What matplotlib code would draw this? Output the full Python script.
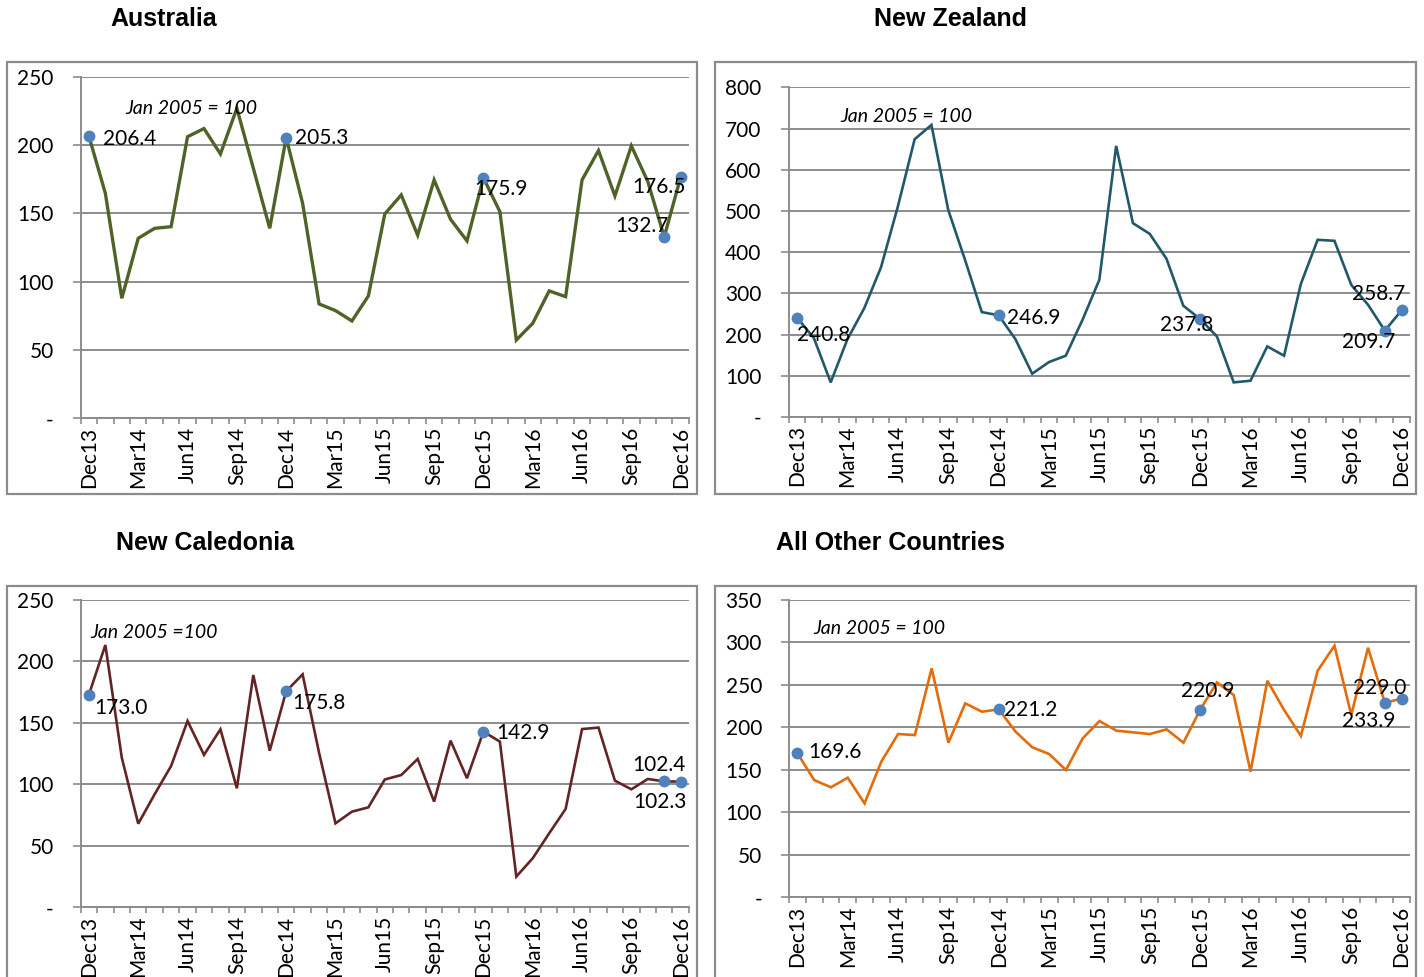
import matplotlib
matplotlib.use("Agg")
import matplotlib.pyplot as plt
from matplotlib.patches import Rectangle
import numpy as np

months = ["Dec13", "Jan14", "Feb14", "Mar14", "Apr14", "May14", "Jun14", "Jul14",
          "Aug14", "Sep14", "Oct14", "Nov14", "Dec14", "Jan15", "Feb15", "Mar15",
          "Apr15", "May15", "Jun15", "Jul15", "Aug15", "Sep15", "Oct15", "Nov15",
          "Dec15", "Jan16", "Feb16", "Mar16", "Apr16", "May16", "Jun16", "Jul16",
          "Aug16", "Sep16", "Oct16", "Nov16", "Dec16"]

australia = [206.4, 164.6, 87.8, 131.7, 139.0, 140.2, 206.0, 212.0, 193.4, 226.8,
             183.0, 139.0, 205.3, 157.3, 83.7, 78.8, 71.2, 89.5, 149.5, 163.4,
             134.0, 174.4, 145.6, 129.8, 175.9, 151.2, 57.3, 69.5, 93.2, 89.0,
             174.4, 195.9, 162.7, 199.3, 173.2, 132.7, 176.5]

new_zealand = [240.8, 191.5, 84.0, 189.0, 264.0, 363.6, 510.7, 674.0, 708.7, 502.6,
               381.4, 254.5, 246.9, 189.0, 105.0, 133.3, 148.7, 236.0, 333.0, 657.8,
               470.3, 444.4, 383.8, 270.0, 237.8, 195.6, 84.0, 88.0, 171.3, 148.7,
               323.0, 430.0, 427.5, 320.8, 272.3, 209.7, 258.7]

new_caledonia = [173.0, 213.4, 121.7, 68.0, 92.0, 115.0, 151.6, 124.0, 144.8, 96.8,
                 189.0, 127.4, 175.8, 189.5, 125.8, 68.3, 77.8, 81.3, 104.0, 107.6,
                 120.7, 86.0, 135.6, 105.0, 142.9, 134.8, 25.0, 39.9, 60.2, 80.0,
                 145.0, 146.2, 103.0, 96.0, 104.4, 102.4, 102.3]

other_countries = [169.6, 138.0, 129.5, 140.8, 110.6, 159.7, 192.2, 191.0, 269.5, 182.0,
                   228.3, 218.5, 221.2, 195.0, 176.5, 168.7, 149.9, 187.1, 207.5, 196.2,
                   194.2, 192.2, 197.7, 182.0, 220.9, 253.0, 238.0, 147.9, 255.0, 220.5,
                   190.0, 266.8, 296.2, 214.6, 293.8, 229.0, 233.9]

titles = ["Australia", "New Zealand", "New Caledonia", "All Other Countries"]
notes = ["Jan 2005 = 100", "Jan 2005 = 100", "Jan 2005 =100", "Jan 2005 = 100"]
labelled_idx = [0, 12, 24, 35, 36]

W, H = 1424, 977
fig = plt.figure(figsize=(W / 100, H / 100), dpi=100)

GRID = "#8c8c8c"
FRAME = "#8c8c8c"
MARK = "#4F81BD"
TICKFONT = "Lato"
FS = 15


def px2fig(x, y):
    return x / W, 1 - y / H


def add_frame(l, t, r, b):
    fig.add_artist(Rectangle((l / W, 1 - b / H), (r - l) / W, (b - t) / H,
                             transform=fig.transFigure, fill=False, ec=FRAME, lw=1.6))


def make_axes(l, t, r, b, data, ymax, ystep, color, lw, offsets, note_xy, note, title, title_xy):
    ax = fig.add_axes([l / W, 1 - b / H, (r - l) / W, (b - t) / H])
    x = np.arange(len(months))
    ax.plot(x, data, color=color, lw=lw, solid_joinstyle="miter", zorder=3)
    ax.plot(x[labelled_idx], np.array(data)[labelled_idx], "o", color=MARK, ms=7.5, zorder=4)
    ax.set_xlim(-0.5, len(months) - 0.5)
    ax.set_ylim(0, ymax)
    yt = np.arange(0, ymax + 1, ystep)
    ax.set_yticks(yt)
    ax.set_yticklabels(["-" if v == 0 else f"{v:d}" for v in yt], fontsize=FS, family=TICKFONT)
    ax.yaxis.grid(True, color=GRID, lw=1.4)
    ax.set_axisbelow(True)
    ax.tick_params(axis="y", direction="out", length=5.5, width=1.2, color=GRID, pad=14)
    ax.set_xticks(x[::3])
    ax.set_xticklabels(months[::3], rotation=90, fontsize=FS, family=TICKFONT)
    ax.set_xticks(np.arange(-0.5, len(months), 1), minor=True)
    ax.tick_params(axis="x", which="major", length=0, pad=6)
    ax.tick_params(axis="x", which="minor", direction="out", length=4, width=1.2, color=GRID)
    for s in ["top", "right"]:
        ax.spines[s].set_visible(False)
    for s in ["left", "bottom"]:
        ax.spines[s].set_color(GRID)
        ax.spines[s].set_linewidth(1.4)
    for i, (dx, dy, ha) in zip(labelled_idx, offsets):
        ax.annotate(f"{data[i]:.1f}", (i, data[i]), xytext=(dx, dy), textcoords="offset pixels",
                    ha=ha, va="center", fontsize=FS, family=TICKFONT, zorder=5)
    fx, fy = px2fig(*note_xy)
    fig.text(fx, fy, note, ha="left", va="center", fontsize=14, style="italic", family=TICKFONT)
    tx, ty = px2fig(*title_xy)
    fig.text(tx, ty, title, ha="center", va="center", fontsize=18, fontweight="bold",
             family="Liberation Sans")
    return ax


add_frame(7, 62, 697, 494)
add_frame(715, 62, 1416, 494)
add_frame(7, 586, 697, 1000)
add_frame(715, 586, 1416, 1000)

make_axes(80.7, 76.6, 688.9, 418.3, australia, 250, 50, "#4F6228", 2.4,
          [(14, -3, "left"), (9, 0, "left"), (-9.5, -11, "left"), (4, 11, "right"), (5, -10, "right")],
          (125, 108), notes[0], titles[0], (164, 19))

make_axes(788.7, 87.3, 1410, 417, new_zealand, 800, 100, "#215968", 1.9,
          [(0, -17, "left"), (8, -3, "left"), (-13.5, -6, "center"), (-16, -11, "center"), (4, 16, "right")],
          (840, 117), notes[1], titles[1], (950, 19))

make_axes(80.7, 600, 688.9, 907.3, new_caledonia, 250, 50, "#632523", 1.9,
          [(5, -13, "left"), (6, -12, "left"), (13, -1, "left"), (-5, 16, "center"), (-21, -20, "center")],
          (90, 632), notes[2], titles[2], (205, 543))

make_axes(789, 600, 1410, 897.3, other_countries, 350, 50, "#E46C0A", 1.9,
          [(10.5, 1, "left"), (5, -1, "left"), (7, 19, "center"), (-5, 15, "center"), (-33, -22, "center")],
          (813, 629), notes[3], titles[3], (890, 543))

fig.savefig("out.png", dpi=100)
